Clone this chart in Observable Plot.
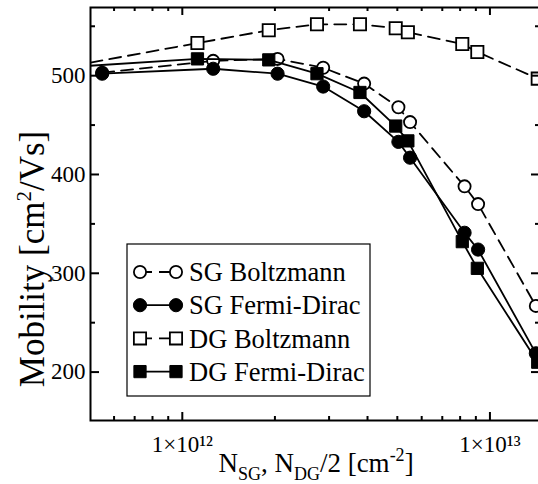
<!DOCTYPE html>
<html>
<head>
<meta charset="utf-8">
<script src="https://cdn.jsdelivr.net/npm/d3@7"></script>
<script src="https://cdn.jsdelivr.net/npm/@observablehq/plot@0.6"></script>
<style>
  html, body { margin: 0; padding: 0; background: white; overflow: hidden; }
  #chart svg { display: block; }
</style>
</head>
<body>
<div id="chart"></div>
<script>
// ---- data ----
const sgX = [5.49e11, 1.26e12, 2.04e12, 2.87e12, 3.90e12, 5.04e12, 5.50e12, 8.27e12, 9.15e12, 1.41e13];
const sgBoltzmann = [503, 515, 517, 508, 492, 468, 453, 388, 370, 267];
const sgFermiDirac = [502, 507, 502, 489, 464, 433, 417, 341, 324, 219];
const dgX = [2.5e11, 1.12e12, 1.91e12, 2.74e12, 3.78e12, 4.94e12, 5.41e12, 8.13e12, 9.10e12, 1.43e13];
const dgBoltzmann = [496, 533, 546, 552, 552, 548, 544, 532, 524, 497];
const dgFermiDirac = [504, 517, 516, 502, 483, 449, 434, 332, 305, 210];

const seriesNames = ["SG Boltzmann", "SG Fermi-Dirac", "DG Boltzmann", "DG Fermi-Dirac"];
const seriesSymbols = ["circle", "circle", "square", "square"];
const seriesFilled = [false, true, false, true];
const seriesDashed = [true, false, true, false];

const xMajorTicks = [1e12, 1e13];
const xMinorTicks = [6e11, 7e11, 8e11, 9e11, 2e12, 3e12, 4e12, 5e12, 6e12, 7e12, 8e12, 9e12];
const yMajorTicks = [200, 300, 400, 500];
const yMinorTicks = [250, 350, 450, 550];
const xTickLabels = ["1×10¹²", "1×10¹³"];

// ---- layout ----
const W = 538, H = 484;
const mL = 90, mT = 7, mB = 64, mR = -2;
const FW = W - mL - mR, FH = H - mT - mB;
const FONT = "'Liberation Serif', 'Times New Roman', serif";
const DASH = "12,7";

const seriesX = [sgX, sgX, dgX, dgX];
const seriesY = [sgBoltzmann, sgFermiDirac, dgBoltzmann, dgFermiDirac];
const tables = seriesY.map((ys, s) => ys.map((y, i) => ({x: seriesX[s][i], y})));

const marks = [];
tables.forEach((rows, s) => {
  marks.push(Plot.line(rows, {x: "x", y: "y", stroke: "black", strokeWidth: 1.8,
    strokeDasharray: seriesDashed[s] ? DASH : null, clip: true}));
  const isSq = seriesSymbols[s] === "square";
  marks.push(Plot.dot(rows, {x: "x", y: "y", symbol: seriesSymbols[s],
    r: isSq ? 6.9 : (seriesFilled[s] ? 6.6 : 6.1),
    fill: seriesFilled[s] ? "black" : "white", stroke: "black",
    strokeWidth: seriesFilled[s] ? 1 : 1.8, clip: true}));
});

// ticks (inward, all four sides)
const tk = {stroke: "black", strokeWidth: 2};
marks.push(
  Plot.tickX(xMajorTicks, {x: d => d, insetTop: FH - 8, ...tk}),
  Plot.tickX(xMinorTicks, {x: d => d, insetTop: FH - 4, ...tk}),
  Plot.tickX(xMajorTicks, {x: d => d, insetBottom: FH - 8, ...tk}),
  Plot.tickX(xMinorTicks, {x: d => d, insetBottom: FH - 4, ...tk}),
  Plot.tickY(yMajorTicks, {y: d => d, insetRight: FW - 9, ...tk}),
  Plot.tickY(yMinorTicks, {y: d => d, insetRight: FW - 5, ...tk}),
  Plot.tickY(yMajorTicks, {y: d => d, insetLeft: FW - 9, ...tk}),
  Plot.tickY(yMinorTicks, {y: d => d, insetLeft: FW - 5, ...tk}),
  Plot.axisY(yMajorTicks, {anchor: "left", tickSize: 0, tickPadding: 5, label: null,
    tickFormat: d3.format("d"), fontSize: 23}),
  Plot.text(xMajorTicks, {x: d => d, frameAnchor: "bottom", dy: 24, lineAnchor: "middle",
    text: (d, i) => xTickLabels[i], fontSize: "23px", fill: "black"}),
  Plot.frame({stroke: "black", strokeWidth: 2})
);

const svg = Plot.plot({
  width: W, height: H,
  marginLeft: mL, marginTop: mT, marginBottom: mB, marginRight: mR,
  x: {type: "log", domain: [5.03e11, 1.46e13], axis: null},
  y: {domain: [151, 569]},
  style: {fontFamily: FONT, fontSize: "23px", color: "black", background: "white"},
  marks
});
document.getElementById("chart").appendChild(svg);

const s = d3.select(svg);

// ---- axis titles ----
const yl = s.append("text")
  .attr("transform", "translate(44,259) rotate(-90)")
  .attr("text-anchor", "middle")
  .style("font-family", FONT).style("font-size", "35px").attr("fill", "black");
yl.append("tspan").text("Mobility [cm");
yl.append("tspan").text("2").style("font-size", "21px").attr("dy", "-13");
yl.append("tspan").text("/Vs]").attr("dy", "13");

const xl = s.append("text")
  .attr("x", 316).attr("y", 472)
  .attr("text-anchor", "middle")
  .style("font-family", FONT).style("font-size", "27px").attr("fill", "black");
xl.append("tspan").text("N");
xl.append("tspan").text("SG").style("font-size", "18px").attr("dy", "8");
xl.append("tspan").text(", N").attr("dy", "-8");
xl.append("tspan").text("DG").style("font-size", "18px").attr("dy", "8");
xl.append("tspan").text("/2 [cm").attr("dy", "-8");
xl.append("tspan").text("-2").style("font-size", "18px").attr("dy", "-11");
xl.append("tspan").text("]").attr("dy", "11");

// ---- legend ----
const lg = s.append("g");
lg.append("rect").attr("x", 127).attr("y", 244).attr("width", 243).attr("height", 152)
  .attr("fill", "white").attr("stroke", "black").attr("stroke-width", 1.2);
seriesNames.forEach((name, i) => {
  const cy = 272 + i * 33.2;
  const x1 = 140, x2 = 176;
  lg.append("line").attr("x1", x1).attr("x2", x2).attr("y1", cy).attr("y2", cy)
    .attr("stroke", "black").attr("stroke-width", 1.8)
    .attr("stroke-dasharray", seriesDashed[i] ? DASH : null);
  const sym = d3.symbol(seriesSymbols[i] === "square" ? d3.symbolSquare : d3.symbolCircle,
    Math.PI * Math.pow(seriesSymbols[i] === "square" ? 6.9 : (seriesFilled[i] ? 6.6 : 6.1), 2));
  [x1, x2].forEach(cx => {
    lg.append("path").attr("d", sym()).attr("transform", `translate(${cx},${cy})`)
      .attr("fill", seriesFilled[i] ? "black" : "white").attr("stroke", "black")
      .attr("stroke-width", seriesFilled[i] ? 1 : 1.8);
  });
  lg.append("text").attr("x", 189).attr("y", cy).attr("dy", "0.35em")
    .attr("text-anchor", "start")
    .style("font-family", FONT).style("font-size", "26.5px").attr("fill", "black").text(name);
});
</script>
</body>
</html>
